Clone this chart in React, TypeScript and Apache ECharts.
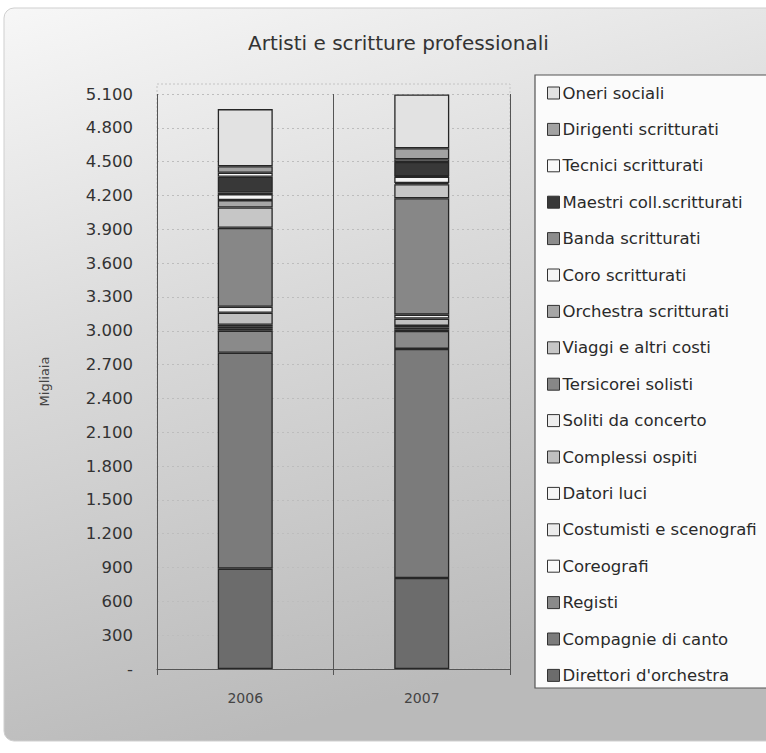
import React, { useEffect, useRef } from "react";
import * as echarts from "echarts";

const categories = ["2006", "2007"];

// stacking order: bottom -> top
const seriesNames = [
  "Direttori d'orchestra",
  "Compagnie di canto",
  "Registi",
  "Coreografi",
  "Costumisti e scenografi",
  "Datori luci",
  "Complessi ospiti",
  "Soliti da concerto",
  "Tersicorei solisti",
  "Viaggi e altri costi",
  "Orchestra scritturati",
  "Coro scritturati",
  "Banda scritturati",
  "Maestri coll.scritturati",
  "Tecnici scritturati",
  "Dirigenti scritturati",
  "Oneri sociali",
];

const values2006 = [890, 1915, 195, 18, 18, 17, 107, 53, 700, 180, 66, 53, 14, 140, 35, 58, 507];
const values2007 = [807, 2032, 160, 15, 15, 14, 65, 35, 1032, 125, 11, 55, 5, 126, 24, 98, 476];

const seriesColors = [
  "#6c6c6c", "#7b7b7b", "#8a8a8a", "#fafafa", "#ececec", "#f5f5f5",
  "#c0c0c0", "#eeeeee", "#878787", "#c6c6c6", "#a6a6a6", "#f4f4f4",
  "#8c8c8c", "#383838", "#f8f8f8", "#a2a2a2", "#e2e2e2",
];

const yTicks = { min: 0, max: 5100, interval: 300 };

const FONT = "DejaVu Sans";

function fmt(v: number): string {
  if (v === 0) return "-";
  const s = String(Math.round(v));
  return s.replace(/\B(?=(\d{3})+(?!\d))/g, ".");
}

export default function App() {
  const ref = useRef<HTMLDivElement>(null);
  useEffect(() => {
    if (!ref.current) return;
    const chart = echarts.init(ref.current, undefined, { renderer: "svg" });
    const series = seriesNames.map((name, i) => ({
      name,
      type: "bar",
      stack: "total",
      barWidth: 55,
      data: [values2006[i], values2007[i]],
      itemStyle: { color: seriesColors[i], borderColor: "#262626", borderWidth: 1.3 },
      emphasis: { disabled: true },
    }));
    chart.setOption({
      animation: false,
      backgroundColor: "#ffffff",
      graphic: [
        {
          type: "rect",
          z: -10,
          silent: true,
          shape: { x: 4, y: 8, width: 790, height: 733, r: 10 },
          style: {
            fill: new echarts.graphic.LinearGradient(0, 0, 0.3, 1, [
              { offset: 0, color: "#f7f7f7" },
              { offset: 0.45, color: "#dadada" },
              { offset: 1, color: "#bababa" },
            ]),
            stroke: "#cfcfcf",
            lineWidth: 1,
          },
        },
        {
          type: "rect",
          z: -5,
          silent: true,
          shape: { x: 157, y: 84, width: 353, height: 585 },
          style: { fill: "rgba(0,0,0,0)", stroke: "#c4c4c4", lineWidth: 1, lineDash: [2, 2] },
        },
        {
          type: "rect",
          z: -1,
          silent: true,
          shape: { x: 535, y: 75, width: 250, height: 613 },
          style: { fill: "#fbfbfb", stroke: "#555", lineWidth: 1.2 },
        },
      ],
      title: {
        text: "Artisti e scritture professionali",
        left: 243,
        top: 28,
        textStyle: { fontFamily: FONT, fontSize: 20, fontWeight: "normal", color: "#333" },
      },
      legend: {
        orient: "vertical",
        left: 542,
        top: 79,
        itemGap: 18.4,
        itemWidth: 12,
        itemHeight: 12,
        icon: "rect",
        itemStyle: { borderColor: "#333", borderWidth: 1 },
        data: [...seriesNames].reverse(),
        textStyle: { fontFamily: FONT, fontSize: 16.5, color: "#2a2a2a", lineHeight: 18, padding: [0, 0, 0, -2] },
        selectedMode: false,
      },
      grid: { left: 157, right: 256, top: 94, bottom: 84 },
      xAxis: {
        type: "category",
        data: categories,
        axisLine: { show: true, lineStyle: { color: "#555" } },
        axisTick: { show: true, length: 6, lineStyle: { color: "#555" } },
        axisLabel: { fontFamily: FONT, fontSize: 14, color: "#444", margin: 22 },
        splitLine: { show: true, lineStyle: { color: "#555", width: 1 } },
      },
      yAxis: {
        type: "value",
        min: yTicks.min,
        max: yTicks.max,
        interval: yTicks.interval,
        name: "Migliaia",
        nameLocation: "middle",
        nameRotate: 90,
        nameGap: 106,
        nameTextStyle: { fontFamily: FONT, fontSize: 13, color: "#444" },
        axisLine: { show: false },
        axisTick: { show: false },
        axisLabel: { fontFamily: FONT, fontSize: 16.5, color: "#333", margin: 24, formatter: fmt },
        splitLine: { show: true, lineStyle: { color: "#bdbdbd", type: [2, 3], width: 1 } },
      },
      series,
    });
    return () => chart.dispose();
  }, []);
  return (
    <div
      ref={ref}
      style={{ position: "fixed", left: 0, top: 0, width: 766, height: 753 }}
    />
  );
}
